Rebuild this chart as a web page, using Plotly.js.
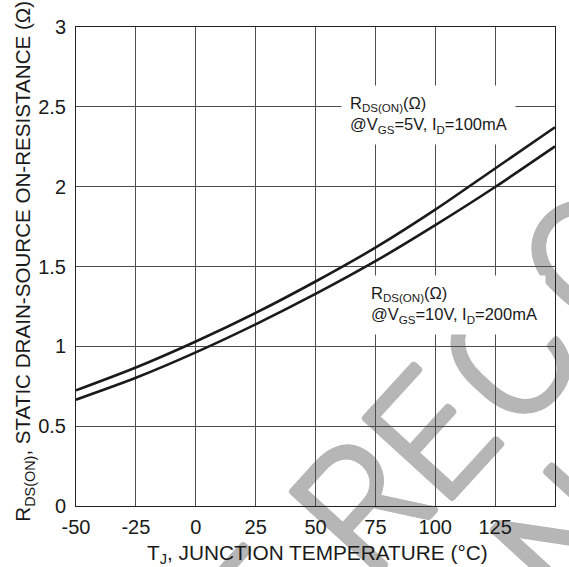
<!DOCTYPE html>
<html>
<head>
<meta charset="utf-8">
<script src="https://cdn.plot.ly/plotly-3.0.1.min.js"></script>
<style>
  html, body { margin: 0; padding: 0; background: #ffffff; }
  #chart { width: 569px; height: 567px; }
</style>
</head>
<body>
<div id="chart"></div>
<script>
// ---- data ----
const temps = [-50, -25, 0, 25, 50, 75, 100, 125, 150];
const rds5V = [0.724, 0.867, 1.030, 1.209, 1.406, 1.618, 1.856, 2.114, 2.372];
const rds10V = [0.666, 0.803, 0.962, 1.138, 1.328, 1.533, 1.759, 1.998, 2.252];
const xTickVals = [-50, -25, 0, 25, 50, 75, 100, 125, 150];
const xTickLabels = ["-50", "-25", "0", "25", "50", "75", "100", "125", "150"];
const yTickVals = [0, 0.5, 1, 1.5, 2, 2.5, 3];
const yTickLabels = ["0", "0.5", "1", "1.5", "2", "2.5", "3"];
const label5V = "R<sub>DS(ON)</sub>(Ω)<br>@V<sub>GS</sub>=5V, I<sub>D</sub>=100mA";
const label10V = "R<sub>DS(ON)</sub>(Ω)<br>@V<sub>GS</sub>=10V, I<sub>D</sub>=200mA";
const xTitle = "T<sub>J</sub>, JUNCTION TEMPERATURE (°C)";
const yTitle = "R<sub>DS(ON)</sub>, STATIC DRAIN-SOURCE ON-RESISTANCE (Ω)";
const watermarkLetters = ["T", "R", "E", "C", "O", "N"];

const FONT = "Liberation Sans, Arial, Helvetica, sans-serif";
const INK = "#1a1a1a";
const WM = "#b6b6b6";

const traces = [
  { x: temps, y: rds5V, type: "scatter", mode: "lines",
    line: { color: INK, width: 2.6, shape: "spline", smoothing: 0.8 }, hoverinfo: "skip" },
  { x: temps, y: rds10V, type: "scatter", mode: "lines",
    line: { color: INK, width: 2.6, shape: "spline", smoothing: 0.8 }, hoverinfo: "skip" }
];

// watermark letter placement (paper coordinates, layout only)
const wmPos = [
  [0.361, -0.221], [0.580, 0.019], [0.724, 0.163],
  [0.889, 0.326], [1.061, 0.528], [1.008, -0.052]
];
const thick = ["2.6px 0", "-2.6px 0", "0 2.6px", "0 -2.6px",
               "1.9px 1.9px", "-1.9px -1.9px", "1.9px -1.9px", "-1.9px 1.9px"]
  .map(s => s + " 0 " + WM).join(", ");
const shapes = watermarkLetters.map((ch, i) => ({
  type: "rect", xref: "paper", yref: "paper", layer: "below",
  x0: wmPos[i][0] - 0.0005, x1: wmPos[i][0] + 0.0005,
  y0: wmPos[i][1] - 0.0005, y1: wmPos[i][1] + 0.0005,
  line: { width: 0, color: "rgba(0,0,0,0)" }, fillcolor: "rgba(0,0,0,0)",
  label: { text: ch, textposition: "middle center", textangle: -47.6, padding: 0,
           font: { family: "Roboto, Liberation Sans, sans-serif", size: 168, color: WM,
                   weight: 300, shadow: thick } }
}));

const layout = {
  width: 569, height: 567,
  margin: { l: 76, r: 14, t: 27, b: 61, pad: 0 },
  paper_bgcolor: "#ffffff",
  plot_bgcolor: "rgba(0,0,0,0)",
  showlegend: false,
  font: { family: FONT, color: INK },
  xaxis: {
    range: [-50, 150], tickmode: "array", tickvals: xTickVals, ticktext: xTickLabels,
    showgrid: true, gridcolor: "#4d4d4d", gridwidth: 1, zeroline: false,
    showline: true, mirror: true, linecolor: "#222", linewidth: 1,
    ticks: "", ticklabelstandoff: 3,
    tickfont: { family: FONT, size: 20, color: INK }, fixedrange: true
  },
  yaxis: {
    range: [0, 3], tickmode: "array", tickvals: yTickVals, ticktext: yTickLabels,
    showgrid: true, gridcolor: "#4d4d4d", gridwidth: 1, zeroline: false,
    showline: true, mirror: true, linecolor: "#222", linewidth: 1,
    ticks: "", ticklabelstandoff: 5,
    tickfont: { family: FONT, size: 20, color: INK }, fixedrange: true
  },
  shapes: shapes,
  annotations: [
    { text: label5V, xref: "paper", yref: "paper", x: 0.5535, y: 0.879,
      xanchor: "left", yanchor: "top", align: "left", showarrow: false,
      bgcolor: "#ffffff", borderpad: 8, font: { family: FONT, size: 16.5, color: INK } },
    { text: label10V, xref: "paper", yref: "paper", x: 0.597, y: 0.482,
      xanchor: "left", yanchor: "top", align: "left", showarrow: false,
      bgcolor: "#ffffff", borderpad: 8, font: { family: FONT, size: 16.5, color: INK } },
    { text: xTitle, xref: "paper", yref: "paper", x: 0.504, y: -0.0996,
      xanchor: "center", yanchor: "middle", showarrow: false,
      font: { family: FONT, size: 20.8, color: INK } },
    { text: yTitle, xref: "paper", yref: "paper", x: 0, xshift: -52, y: 0.510,
      xanchor: "center", yanchor: "middle", textangle: -90, showarrow: false,
      font: { family: FONT, size: 20.6, color: INK } }
  ]
};

Plotly.newPlot("chart", traces, layout, { staticPlot: true, displayModeBar: false });
</script>
</body>
</html>
